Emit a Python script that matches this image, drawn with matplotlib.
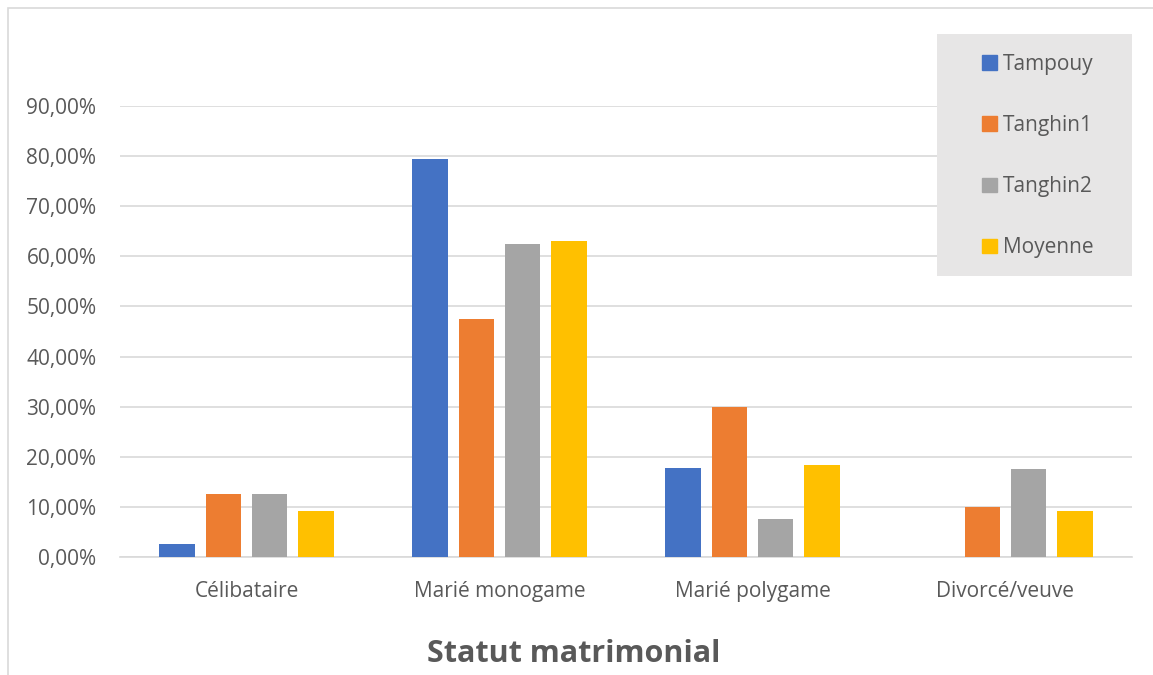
import matplotlib
matplotlib.use('Agg')
import matplotlib.pyplot as plt
import matplotlib.patches as mpatches
from matplotlib.ticker import FuncFormatter
import numpy as np

plt.rcParams['font.family'] = ['Open Sans', 'DejaVu Sans']

categories = ['Célibataire', 'Marié monogame', 'Marié polygame', 'Divorcé/veuve']
series = ['Tampouy', 'Tanghin1', 'Tanghin2', 'Moyenne']
tampouy = [0.025, 0.794, 0.178, 0.0]
tanghin1 = [0.125, 0.475, 0.30, 0.10]
tanghin2 = [0.125, 0.625, 0.075, 0.175]
moyenne = [0.091, 0.631, 0.184, 0.091]
colors = ['#4472c4', '#ed7d31', '#a5a5a5', '#ffc000']
yticks = np.arange(0, 0.91, 0.1)

W, H = 1153, 675
fig = plt.figure(figsize=(W / 100, H / 100), dpi=100)
ax = fig.add_axes([120 / W, 1 - 557 / H, (1132 - 120) / W, (557 - 106) / H])

x = np.arange(len(categories))
width = 0.142
step = 0.182
for i, (name, vals) in enumerate(zip(series, [tampouy, tanghin1, tanghin2, moyenne])):
    ax.bar(x + (i - 1.5) * step, vals, width, color=colors[i], label=name, zorder=3)

ax.set_xlim(-0.5, len(categories) - 0.5)
ax.set_ylim(0, 0.9)
ax.set_yticks(yticks)
ax.yaxis.set_major_formatter(FuncFormatter(lambda v, p: f"{v*100:.2f}%".replace('.', ',')))
ax.set_xticks(x)
ax.set_xticklabels(categories)
ax.tick_params(length=0, labelsize=15, colors='#595959')
ax.tick_params(axis='x', pad=17)
ax.tick_params(axis='y', pad=17)
ax.grid(axis='y', color='#d9d9d9', linewidth=1.2, zorder=0)
for s in ['top', 'right', 'left']:
    ax.spines[s].set_visible(False)
ax.spines['bottom'].set_color('#d9d9d9')
ax.spines['bottom'].set_linewidth(1.2)

fig.text(574 / W, 1 - 654 / H, 'Statut matrimonial', ha='center', va='center',
         fontsize=22, fontweight='bold', color='#595959')

# legend box
box = mpatches.Rectangle((937 / W, 1 - 276 / H), 195 / W, 242 / H,
                         transform=fig.transFigure, facecolor='#e7e6e6',
                         edgecolor='none', zorder=5)
fig.patches.append(box)
handles = [mpatches.Patch(color=c) for c in colors]
leg = fig.legend(handles, series, loc='center', bbox_to_anchor=(1038 / W, 1 - 156 / H),
                 frameon=False, fontsize=15, labelspacing=1.93, handlelength=0.7,
                 handleheight=0.7, handletextpad=0.3, labelcolor='#595959')
leg.set_zorder(6)

# chart border
border = mpatches.Rectangle((8 / W, -0.1), 1.2, 1 - 8 / H + 0.1, transform=fig.transFigure,
                            facecolor='none', edgecolor='#d9d9d9', linewidth=1.2)
fig.patches.append(border)

fig.savefig('out.png', dpi=100)
